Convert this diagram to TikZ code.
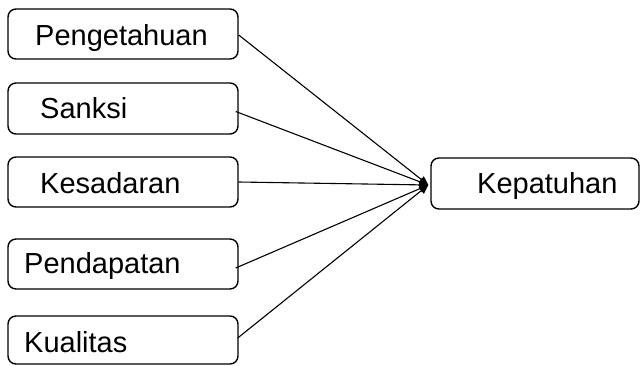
\documentclass[tikz,border=0pt]{standalone}
\usepackage{fontspec}
\setmainfont{Liberation Sans}
\usetikzlibrary{arrows.meta}
\begin{document}
\begin{tikzpicture}[x=1pt,y=-1pt,
  box/.style={draw,line width=1.4pt,rounded corners=8pt},
  lbl/.style={anchor=base west,inner sep=0pt,font=\fontsize{29}{34}\selectfont},
  link/.style={line width=1.1pt,-{Triangle[length=9pt,width=8pt]}}]
\useasboundingbox (0,0) rectangle (640,365);
% factor boxes on the left
\node[box,minimum width=230pt,minimum height=50pt] (b1) at (123,34) {};
\node[box,minimum width=230pt,minimum height=51pt] (b2) at (123,108.5) {};
\node[box,minimum width=230pt,minimum height=50pt] (b3) at (123,182) {};
\node[box,minimum width=230pt,minimum height=50pt] (b4) at (123,264) {};
\node[box,minimum width=230pt,minimum height=48pt] (b5) at (123,340) {};
% outcome box
\node[box,minimum width=208pt,minimum height=51pt] (k) at (535,183.5) {};
% labels
\node[lbl] (t1) at (35,45) {Pengetahuan};
\node[lbl] (t2) at (40,118) {Sanksi};
\node[lbl] (t3) at (40,193) {Kesadaran};
\node[lbl] (t4) at (24,273) {Pendapatan};
\node[lbl] (t5) at (24,352) {Kualitas};
\node[lbl] (t6) at (477,193) {Kepatuhan};
% merge point just left of the outcome box
\coordinate (m) at ([xshift=-2pt,yshift=-1.5pt]k.west);
\draw[link] ([yshift=-1pt]b1.east) -- (m);
\draw[link] ([xshift=-3pt,yshift=-3pt]b2.east) -- (m);
\draw[link] (b3.east) -- (m);
\draw[link] ([xshift=-3pt,yshift=-4pt]b4.east) -- (m);
\draw[link] ([xshift=-1pt,yshift=2pt]b5.east) -- (m);
\end{tikzpicture}
\end{document}
